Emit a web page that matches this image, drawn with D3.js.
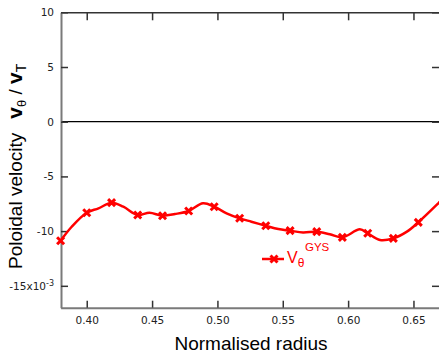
<!DOCTYPE html>
<html>
<head>
<meta charset="utf-8">
<script src="https://cdn.jsdelivr.net/npm/d3@7/dist/d3.min.js"></script>
<style>
  body { margin: 0; background: #fff; }
</style>
</head>
<body>
<div id="chart-area"></div>
<script>
// GYS poloidal velocity profile (units of 1e-3)
var radius = [0.380, 0.3885, 0.400, 0.409, 0.419, 0.428, 0.439, 0.448, 0.458, 0.4675,
              0.478, 0.489, 0.4975, 0.507, 0.517, 0.526, 0.537, 0.5466, 0.5556, 0.5655,
              0.576, 0.586, 0.5956, 0.609, 0.615, 0.6244, 0.6346, 0.645, 0.6537, 0.669, 0.672];
var vtheta = [-10.88, -9.60, -8.32, -7.92, -7.40, -7.77, -8.53, -8.32, -8.59, -8.44,
              -8.16, -7.46, -7.77, -8.37, -8.83, -9.14, -9.51, -9.81, -9.96, -10.13,
              -10.05, -10.29, -10.57, -9.84, -10.20, -10.81, -10.66, -10.05, -9.20, -7.46, -7.1];

// points carrying a marker
var markerRadius = [0.380, 0.400, 0.419, 0.439, 0.458, 0.478, 0.4975, 0.517, 0.537,
                    0.5556, 0.576, 0.5956, 0.615, 0.6346, 0.6537];
var markerVtheta = [-10.88, -8.32, -7.40, -8.53, -8.59, -8.16, -7.77, -8.83, -9.51,
                    -9.96, -10.05, -10.57, -10.20, -10.66, -9.20];

var xTicks = [0.40, 0.45, 0.50, 0.55, 0.60, 0.65];
var yTicks = [10, 5, 0, -5, -10, -15];

var width = 439, height = 353;
var red = "#ff0000";
var tickFont = "'DejaVu Sans', Verdana, sans-serif";
var titleFont = "'Liberation Sans', Arial, Helvetica, sans-serif";

var svg = d3.select("#chart-area")
    .append("svg")
        .attr("width", width)
        .attr("height", height);

var x = d3.scaleLinear()
    .domain([0.38, 0.67])
    .range([60.6, 439.6]);

var y = d3.scaleLinear()
    .domain([-17, 10])
    .range([307.7, 12.3]);

var plotLeft = 61, plotRight = 440, plotTop = 12.3, plotBottom = 307.7;

// clip for the curve
svg.append("clipPath").attr("id", "plot-clip")
  .append("rect")
    .attr("x", plotLeft).attr("y", plotTop)
    .attr("width", plotRight - plotLeft).attr("height", plotBottom - plotTop);

// zero line
svg.append("line")
    .attr("x1", plotLeft).attr("x2", plotRight)
    .attr("y1", y(0)).attr("y2", y(0))
    .attr("stroke", "#000")
    .attr("stroke-width", 1.2);

// bottom axis
var xAxisGroup = svg.append("g")
    .attr("transform", "translate(0," + plotBottom + ")")
    .call(d3.axisBottom(x)
        .tickValues(xTicks)
        .tickFormat(d3.format(".2f"))
        .tickSizeInner(-7)
        .tickSizeOuter(0)
        .tickPadding(9));

// top axis (ticks only)
var topAxisGroup = svg.append("g")
    .attr("transform", "translate(0," + plotTop + ")")
    .call(d3.axisTop(x)
        .tickValues(xTicks)
        .tickFormat("")
        .tickSizeInner(-8)
        .tickSizeOuter(0));

// left axis
var yAxisGroup = svg.append("g")
    .attr("transform", "translate(" + plotLeft + ",0)")
    .call(d3.axisLeft(y)
        .tickValues(yTicks)
        .tickFormat(function(d){ return String(d); })
        .tickSizeInner(-7)
        .tickSizeOuter(0)
        .tickPadding(7));

// right axis (ticks only)
var rightAxisGroup = svg.append("g")
    .attr("transform", "translate(" + plotRight + ",0)")
    .call(d3.axisRight(y)
        .tickValues(yTicks)
        .tickFormat("")
        .tickSizeInner(-8)
        .tickSizeOuter(0));

svg.selectAll(".domain").attr("stroke", "#7a7a7a").attr("stroke-width", 2);
topAxisGroup.select(".domain").attr("stroke", "#333").attr("stroke-width", 1.5);
svg.selectAll(".tick line").attr("stroke", "#333").attr("stroke-width", 1.5);
svg.selectAll(".tick text")
    .attr("fill", "#222")
    .attr("font-family", tickFont)
    .attr("font-size", "10.5px");

// -15 label gets the x10^-3 multiplier
yAxisGroup.selectAll(".tick text")
    .filter(function(d){ return d === -15; })
    .text("-15x10")
  .append("tspan")
    .attr("dy", "-4")
    .attr("font-size", "8px")
    .text("-3");

// curve
var line = d3.line()
    .x(function(d){ return x(d[0]); })
    .y(function(d){ return y(d[1]); })
    .curve(d3.curveCatmullRom.alpha(0.5));

svg.append("path")
    .datum(d3.zip(radius, vtheta))
    .attr("clip-path", "url(#plot-clip)")
    .attr("fill", "none")
    .attr("stroke", red)
    .attr("stroke-width", 2.5)
    .attr("d", line);

// markers
var cross = "M-3.5,-3.5L3.5,3.5M-3.5,3.5L3.5,-3.5";
svg.selectAll(".marker")
    .data(d3.zip(markerRadius, markerVtheta))
    .enter()
    .append("path")
        .attr("class", "marker")
        .attr("d", cross)
        .attr("transform", function(d){ return "translate(" + x(d[0]) + "," + y(d[1]) + ")"; })
        .attr("stroke", red)
        .attr("stroke-width", 3);

// legend
svg.append("line")
    .attr("x1", 262).attr("x2", 284)
    .attr("y1", 259).attr("y2", 259)
    .attr("stroke", red)
    .attr("stroke-width", 2.5);
svg.append("path")
    .attr("d", cross)
    .attr("transform", "translate(274,259)")
    .attr("stroke", red)
    .attr("stroke-width", 3);
var legendText = svg.append("text")
    .attr("x", 287)
    .attr("y", 263)
    .attr("fill", red)
    .attr("font-family", titleFont)
    .attr("font-size", "16px")
    .text("V");
legendText.append("tspan")
    .attr("dy", 4)
    .attr("font-size", "12px")
    .text("θ");
svg.append("text")
    .attr("x", 305)
    .attr("y", 251)
    .attr("fill", red)
    .attr("font-family", titleFont)
    .attr("font-size", "11.5px")
    .text("GYS");

// x label
svg.append("text")
    .attr("x", 251)
    .attr("y", 350)
    .attr("text-anchor", "middle")
    .attr("font-family", titleFont)
    .attr("font-size", "19px")
    .attr("fill", "#000")
    .text("Normalised radius");

// y label
var labelY = svg.append("text")
    .attr("transform", "rotate(-90)")
    .attr("x", -269)
    .attr("y", 22)
    .attr("font-family", titleFont)
    .attr("font-size", "19px")
    .attr("fill", "#000")
    .text("Poloidal velocity");
labelY.append("tspan").attr("dx", 14).attr("font-size", "21px").attr("font-weight", "bold").text("v");
labelY.append("tspan").attr("dy", 4).attr("font-size", "13px").text("θ");
labelY.append("tspan").attr("dy", -4).text(" / ");
labelY.append("tspan").attr("font-size", "21px").attr("font-weight", "bold").text("v");
labelY.append("tspan").attr("dy", 4).attr("font-size", "14px").text("T");
</script>
</body>
</html>
